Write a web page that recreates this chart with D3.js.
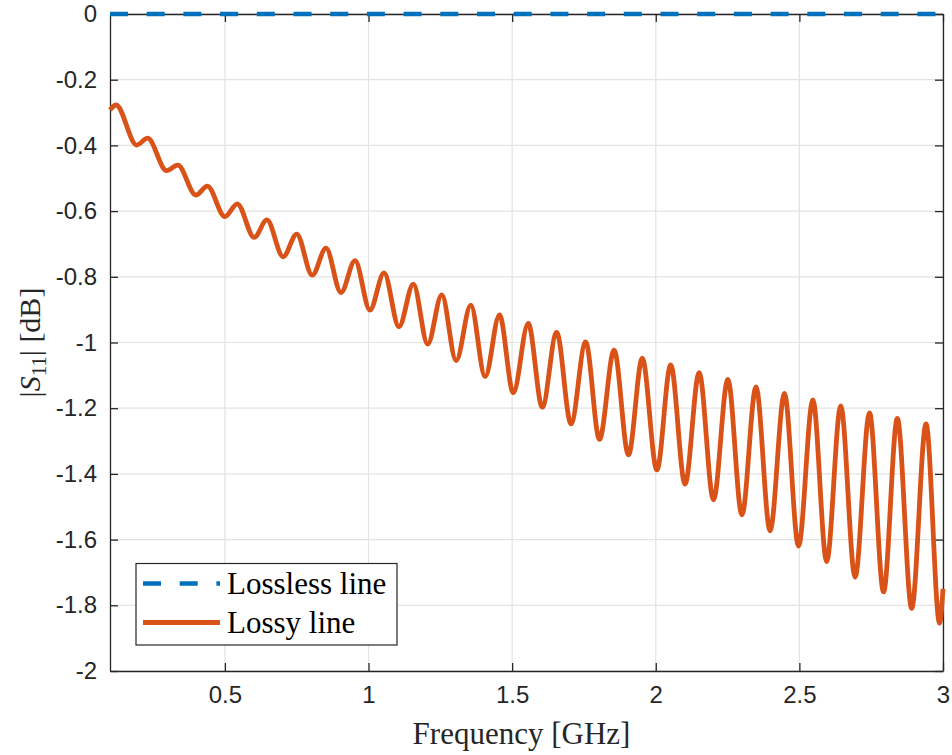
<!DOCTYPE html>
<html>
<head>
<meta charset="utf-8">
<script src="https://cdn.jsdelivr.net/npm/d3@7"></script>
<style>
  html, body { margin: 0; padding: 0; background: #fff; }
  svg { display: block; }
</style>
</head>
<body>
<svg id="chart" width="952" height="755"></svg>
<script>
// ---- Data ----
const xTicks = [0.5, 1, 1.5, 2, 2.5, 3];
const yTicks = [0, -0.2, -0.4, -0.6, -0.8, -1, -1.2, -1.4, -1.6, -1.8, -2];
const xTickLabels = ["0.5", "1", "1.5", "2", "2.5", "3"];
const yTickLabels = ["0", "-0.2", "-0.4", "-0.6", "-0.8", "-1", "-1.2", "-1.4", "-1.6", "-1.8", "-2"];

const losslessFreq = [0.1, 3.0];
const losslessS11 = [0, 0];

// Lossy line: start, alternating peaks/troughs, end (GHz, dB)
const lossyFreq = [0.100, 0.121, 0.193, 0.231, 0.297, 0.336, 0.399, 0.439, 0.500, 0.543,
  0.602, 0.646, 0.703, 0.750, 0.804, 0.852, 0.904, 0.953, 1.005, 1.054,
  1.106, 1.156, 1.206, 1.255, 1.305, 1.356, 1.406, 1.456, 1.504, 1.556,
  1.605, 1.655, 1.705, 1.756, 1.804, 1.855, 1.905, 1.953, 2.004, 2.052,
  2.102, 2.151, 2.201, 2.251, 2.300, 2.349, 2.398, 2.448, 2.497, 2.547,
  2.595, 2.644, 2.694, 2.744, 2.793, 2.841, 2.891, 2.941, 2.988, 3.000];
const lossyS11 = [-0.292, -0.277, -0.399, -0.378, -0.477, -0.460, -0.551, -0.524, -0.617, -0.578,
  -0.680, -0.627, -0.739, -0.670, -0.795, -0.713, -0.848, -0.751, -0.901, -0.788,
  -0.952, -0.822, -1.005, -0.855, -1.055, -0.886, -1.104, -0.916, -1.153, -0.942,
  -1.197, -0.969, -1.248, -0.998, -1.295, -1.023, -1.342, -1.048, -1.388, -1.068,
  -1.431, -1.092, -1.479, -1.112, -1.525, -1.135, -1.573, -1.155, -1.620, -1.175,
  -1.667, -1.193, -1.715, -1.214, -1.759, -1.231, -1.809, -1.248, -1.854, -1.750];

const seriesNames = ["Lossless line", "Lossy line"];
const seriesColors = ["#0072BD", "#D95319"];

// ---- Layout ----
const svg = d3.select("#chart");
const L = 110, R = 943, T = 14, B = 671;
const x = d3.scaleLinear().domain([0.1, 3]).range([L, R]);
const y = d3.scaleLinear().domain([-2, 0]).range([B, T]);
const axisColor = "#262626";
const tickFont = "'Liberation Sans', Arial, Helvetica, sans-serif";
const serif = "'Liberation Serif', 'Times New Roman', serif";

// Grid
const grid = svg.append("g");
grid.selectAll("line.gx").data(xTicks).enter().append("line")
  .attr("x1", d => x(d)).attr("x2", d => x(d)).attr("y1", T).attr("y2", B)
  .attr("stroke", "#e3e3e3").attr("stroke-width", 1.2);
grid.selectAll("line.gy").data(yTicks).enter().append("line")
  .attr("x1", L).attr("x2", R).attr("y1", d => y(d)).attr("y2", d => y(d))
  .attr("stroke", "#e3e3e3").attr("stroke-width", 1.2);

// Axes (box with inward ticks on all sides)
const tl = 8;
const axB = d3.axisBottom(x).tickValues(xTicks).tickFormat((d, i) => xTickLabels[i]).tickSizeInner(-tl).tickSizeOuter(0).tickPadding(15);
const axT = d3.axisTop(x).tickValues(xTicks).tickFormat("").tickSizeInner(-tl).tickSizeOuter(0);
const axL = d3.axisLeft(y).tickValues(yTicks).tickFormat((d, i) => yTickLabels[i]).tickSizeInner(-tl).tickSizeOuter(0).tickPadding(13);
const axR = d3.axisRight(y).tickValues(yTicks).tickFormat("").tickSizeInner(-tl).tickSizeOuter(0);

function styleAxis(g) {
  g.selectAll("path.domain").attr("stroke", axisColor).attr("stroke-width", 1.3);
  g.selectAll(".tick line").attr("stroke", axisColor).attr("stroke-width", 1.3);
  g.selectAll(".tick text").attr("fill", axisColor).style("font-family", tickFont).style("font-size", "24px");
}
svg.append("g").attr("transform", `translate(0,${B})`).call(axB).call(styleAxis);
svg.append("g").attr("transform", `translate(0,${T})`).call(axT).call(styleAxis);
svg.append("g").attr("transform", `translate(${L},0)`).call(axL).call(styleAxis);
svg.append("g").attr("transform", `translate(${R},0)`).call(axR).call(styleAxis);
svg.selectAll(".tick text").attr("font-family", null);

// Lines
const lineGen = d3.line().x(d => x(d[0])).y(d => y(d[1])).curve(d3.curveMonotoneX);
svg.append("path")
  .datum(d3.zip(lossyFreq, lossyS11))
  .attr("d", lineGen)
  .attr("fill", "none").attr("stroke", seriesColors[1]).attr("stroke-width", 4.8)
  .attr("stroke-linejoin", "round");
svg.append("path")
  .datum(d3.zip(losslessFreq, losslessS11))
  .attr("d", d3.line().x(d => x(d[0])).y(d => y(d[1])))
  .attr("fill", "none").attr("stroke", seriesColors[0]).attr("stroke-width", 4.3)
  .attr("stroke-dasharray", "18,18.7");

// Axis labels
svg.append("text")
  .attr("x", (L + R) / 2 - 5).attr("y", 744)
  .attr("text-anchor", "middle")
  .style("font-family", serif).style("font-size", "31px").attr("fill", axisColor)
  .text("Frequency [GHz]");

const yl = svg.append("text")
  .attr("transform", `translate(40,${(T + B) / 2}) rotate(-90)`)
  .attr("text-anchor", "middle")
  .style("font-family", serif).style("font-size", "30px").attr("fill", axisColor);
yl.append("tspan").text("|");
yl.append("tspan").attr("font-style", "italic").text("S");
yl.append("tspan").attr("dy", 6).style("font-size", "21px").text("11");
yl.append("tspan").attr("dy", -6).text("| [dB]");

// Legend
const lg = svg.append("g");
lg.append("rect").attr("x", 136).attr("y", 563.5).attr("width", 261).attr("height", 81.5)
  .attr("fill", "#fff").attr("stroke", axisColor).attr("stroke-width", 1.2);
const rows = [583.5, 622.5];
seriesNames.forEach((name, i) => {
  lg.append("line").attr("x1", 143).attr("x2", 220).attr("y1", rows[i]).attr("y2", rows[i])
    .attr("stroke", seriesColors[i]).attr("stroke-width", i === 0 ? 4.3 : 4.8)
    .attr("stroke-dasharray", i === 0 ? "18,18.7" : null);
  lg.append("text").attr("x", 227).attr("y", rows[i] + 10)
    .style("font-family", serif).style("font-size", "31px").attr("fill", "#000")
    .text(name);
});
</script>
</body>
</html>
